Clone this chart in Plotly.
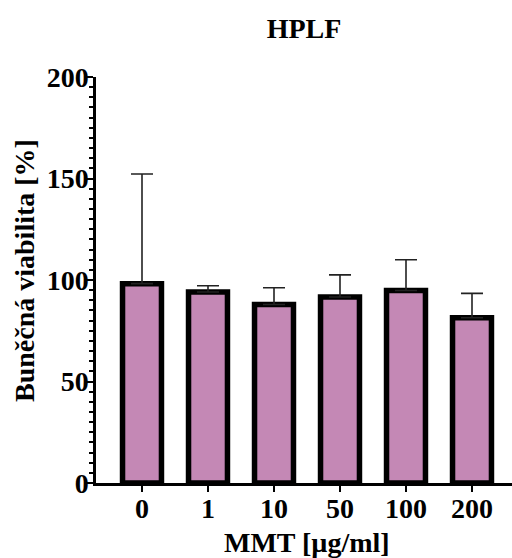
import plotly.graph_objects as go

categories = ["0", "1", "10", "50", "100", "200"]
viability = [98.2, 94.1, 87.9, 91.6, 94.8, 81.4]
error_plus = [54.0, 3.1, 8.3, 10.9, 15.2, 12.0]
y_ticks = [0, 50, 100, 150, 200]

FONT = "Liberation Serif"
FS = 28
W, H = 512, 558
L, R, T, B = 96, 0, 77, 75

xpos = list(range(len(categories)))

fig = go.Figure()
fig.add_trace(go.Bar(
    x=xpos, y=viability,
    width=0.59,
    marker=dict(color="#C488B5", line=dict(color="black", width=5.5)),
    error_y=dict(type="data", symmetric=False, array=error_plus,
                 arrayminus=[0] * len(error_plus),
                 color="#222222", thickness=1.6, width=11),
))

fig.update_layout(
    width=W, height=H,
    margin=dict(l=L, r=R, t=T, b=B, pad=0),
    plot_bgcolor="white", paper_bgcolor="white",
    showlegend=False,
    title=dict(text="<b>HPLF</b>", x=0.5, xref="paper", xanchor="center",
               y=1 - 28 / H, yref="container", yanchor="middle",
               font=dict(family=FONT, size=FS, color="black")),
    xaxis=dict(
        range=[-0.697, 5.606],
        tickmode="array", tickvals=xpos,
        ticktext=[f"<b>{c}</b>" for c in categories],
        tickfont=dict(family=FONT, size=FS, color="black"),
        ticks="outside", ticklen=6, tickwidth=2, tickcolor="black",
        ticklabelstandoff=-7,
        showline=True, linecolor="black", linewidth=2.5,
        showgrid=False, zeroline=False,
    ),
    yaxis=dict(
        range=[0, 200],
        tickmode="array", tickvals=y_ticks,
        ticktext=[f"<b>{v}</b>" for v in y_ticks],
        tickfont=dict(family=FONT, size=FS, color="black"),
        ticks="outside", ticklen=6, tickwidth=2, tickcolor="black",
        ticklabelstandoff=-7,
        minor=dict(dtick=5, tick0=0, ticks="outside", ticklen=4,
                   tickwidth=1.5, tickcolor="black", showgrid=False),
        showline=True, linecolor="black", linewidth=2.5,
        showgrid=False, zeroline=False,
    ),
    annotations=[
        dict(text="<b>Buněčná viabilita [%]</b>", textangle=-90,
             x=(24 - L) / (W - L - R), y=(H - B - 271) / (H - T - B),
             xref="paper", yref="paper", xanchor="center", yanchor="middle",
             showarrow=False, font=dict(family=FONT, size=FS, color="black")),
        dict(text="<b>MMT [µg/ml]</b>",
             x=(307 - L) / (W - L - R), y=(H - B - 542) / (H - T - B),
             xref="paper", yref="paper", xanchor="center", yanchor="middle",
             showarrow=False, font=dict(family=FONT, size=FS, color="black")),
    ],
)

fig.write_html("out.html")
